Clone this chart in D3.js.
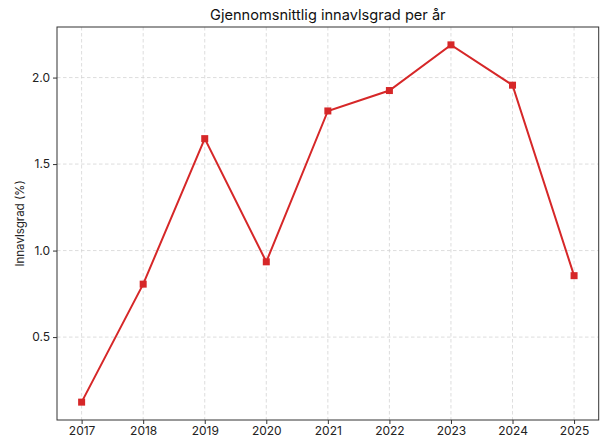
<!DOCTYPE html>
<html>
<head>
<meta charset="utf-8">
<script src="https://cdn.jsdelivr.net/npm/d3@7"></script>
<style>
  body { margin: 0; background: #fff; }
  svg text { font-family: Inter, "Noto Sans", sans-serif; }
  .grid line { stroke: #d4d4d4; stroke-dasharray: 3.5,2.5; stroke-width: 0.8; }
  .axis text { font-size: 12px; fill: #222; }
  .axis path, .axis line { stroke: #333; }
</style>
</head>
<body>
<div id="chart"></div>
<script>
const width = 600,
  height = 437,
  margin = { top: 27, right: 1.3, bottom: 17, left: 57 };

const years = [2017, 2018, 2019, 2020, 2021, 2022, 2023, 2024, 2025];
const values = [0.124, 0.806, 1.647, 0.935, 1.807, 1.925, 2.189, 1.956, 0.855];
const yTicks = [0.5, 1.0, 1.5, 2.0];

const data = years.map((y, i) => ({ year: y, value: values[i] }));

const svg = d3.select("#chart")
  .append("svg")
  .attr("width", width)
  .attr("height", height);

const xPad = (d3.max(years) - d3.min(years)) * 0.05;
const xScale = d3.scaleLinear()
  .domain([d3.min(years) - xPad, d3.max(years) + xPad])
  .range([margin.left, width - margin.right]);

const yPad = (d3.max(values) - d3.min(values)) * 0.05;
const yScale = d3.scaleLinear()
  .domain([d3.min(values) - yPad, d3.max(values) + yPad])
  .range([height - margin.bottom, margin.top]);

// grid
svg.append("g")
  .attr("class", "grid")
  .selectAll("line.v")
  .data(years)
  .join("line")
  .attr("x1", d => xScale(d)).attr("x2", d => xScale(d))
  .attr("y1", margin.top).attr("y2", height - margin.bottom);

svg.append("g")
  .attr("class", "grid")
  .selectAll("line.h")
  .data(yTicks)
  .join("line")
  .attr("x1", margin.left).attr("x2", width - margin.right)
  .attr("y1", d => yScale(d)).attr("y2", d => yScale(d));

// axes
svg.append("g")
  .attr("class", "axis x-axis")
  .attr("transform", `translate(0,${height - margin.bottom})`)
  .call(d3.axisBottom(xScale).tickValues(years).tickFormat(d3.format("d")).tickSize(4).tickSizeOuter(0))
  .call(g => g.select(".domain").remove())
  .call(g => g.selectAll("text").attr("dy", "0.71em").attr("y", 6));

svg.append("g")
  .attr("class", "axis y-axis")
  .attr("transform", `translate(${margin.left},0)`)
  .call(d3.axisLeft(yScale).tickValues(yTicks).tickFormat(d3.format(".1f")).tickSize(4).tickSizeOuter(0))
  .call(g => g.select(".domain").remove())
  .call(g => g.selectAll("text").attr("x", -7));

// frame
svg.append("rect")
  .attr("x", margin.left)
  .attr("y", margin.top)
  .attr("width", width - margin.right - margin.left)
  .attr("height", height - margin.bottom - margin.top)
  .attr("fill", "none")
  .attr("stroke", "#333")
  .attr("stroke-width", 1);

// line
const line = d3.line()
  .x(d => xScale(d.year))
  .y(d => yScale(d.value));

svg.append("path")
  .datum(data)
  .attr("fill", "none")
  .attr("stroke", "#d62728")
  .attr("stroke-width", 2)
  .attr("d", line);

const s = 7;
svg.selectAll("rect.marker")
  .data(data)
  .join("rect")
  .attr("class", "marker")
  .attr("x", d => xScale(d.year) - s / 2)
  .attr("y", d => yScale(d.value) - s / 2)
  .attr("width", s)
  .attr("height", s)
  .attr("fill", "#d62728");

// title and label
svg.append("text")
  .attr("x", (margin.left + width - margin.right) / 2)
  .attr("y", 20)
  .attr("text-anchor", "middle")
  .attr("font-size", 14.6)
  .attr("fill", "#111")
  .text("Gjennomsnittlig innavlsgrad per år");

svg.append("text")
  .attr("transform", `translate(24,${(margin.top + height - margin.bottom) / 2}) rotate(-90)`)
  .attr("text-anchor", "middle")
  .attr("font-size", 11.5)
  .attr("fill", "#222")
  .text("Innavlsgrad (%)");
</script>
</body>
</html>
